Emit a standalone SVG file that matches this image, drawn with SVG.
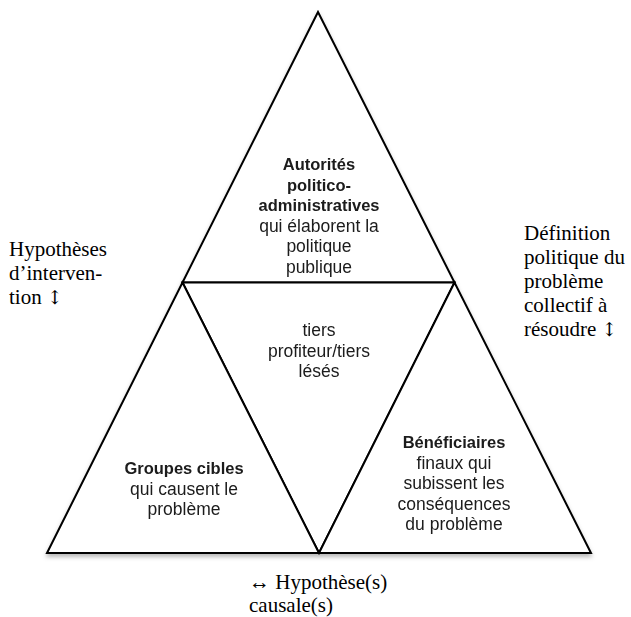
<svg xmlns="http://www.w3.org/2000/svg" width="631" height="617" viewBox="0 0 631 617">
  <defs>
    <filter id="shadow" x="-10%" y="-10%" width="120%" height="130%">
      <feDropShadow dx="0" dy="3" stdDeviation="2" flood-color="#000" flood-opacity="0.28"/>
    </filter>
  </defs>
  <style>
    .tri { fill: #fff; stroke: #000; stroke-width: 2; stroke-linejoin: miter; }
    .sans { font-family: "Liberation Sans", Arial, sans-serif; font-size: 17.5px; fill: #1a1a1a; text-anchor: middle; }
    .bold { font-weight: bold; font-size: 16.5px; }
    .serif { font-family: "Liberation Serif", "Times New Roman", serif; font-size: 21px; fill: #000; }
    .arrow { font-family: "DejaVu Serif", serif; font-size: 19px; }
  </style>
  <rect width="631" height="617" fill="#fff"/>
  <g filter="url(#shadow)">
    <g id="top">
      <polygon class="tri" points="318,12 182.5,282.5 454.5,282.5"/>
      <text class="sans bold" x="319" y="170">Autorités</text>
      <text class="sans bold" x="319" y="190.6">politico-</text>
      <text class="sans bold" x="319" y="211.2">administratives</text>
      <text class="sans" x="319" y="231.8">qui élaborent la</text>
      <text class="sans" x="319" y="252.4">politique</text>
      <text class="sans" x="319" y="273">publique</text>
    </g>
    <g id="center">
      <polygon class="tri" points="182.5,282.5 454.5,282.5 319,553"/>
      <text class="sans" x="319" y="336">tiers</text>
      <text class="sans" x="319" y="356.5">profiteur/tiers</text>
      <text class="sans" x="319" y="377">lésés</text>
    </g>
    <g id="left">
      <polygon class="tri" points="182.5,282.5 47,553 319,553"/>
      <text class="sans bold" x="184" y="474">Groupes cibles</text>
      <text class="sans" x="184" y="494.5">qui causent le</text>
      <text class="sans" x="184" y="515">problème</text>
    </g>
    <g id="right">
      <polygon class="tri" points="454.5,282.5 319,553 591,553"/>
      <text class="sans bold" x="454" y="448">Bénéficiaires</text>
      <text class="sans" x="454" y="468.6">finaux qui</text>
      <text class="sans" x="454" y="489.2">subissent les</text>
      <text class="sans" x="454" y="509.8">conséquences</text>
      <text class="sans" x="454" y="530.4">du problème</text>
    </g>
  </g>
  <g id="label-left">
    <text class="serif" x="9" y="256">Hypothèses</text>
    <text class="serif" x="9" y="280">d’interven-</text>
    <text class="serif" x="9" y="304">tion <tspan class="arrow">↕</tspan></text>
  </g>
  <g id="label-right">
    <text class="serif" x="524" y="240">Définition</text>
    <text class="serif" x="524" y="264">politique du</text>
    <text class="serif" x="524" y="288">problème</text>
    <text class="serif" x="524" y="312">collectif à</text>
    <text class="serif" x="524" y="336">résoudre <tspan class="arrow">↕</tspan></text>
  </g>
  <g id="label-bottom">
    <text class="serif" x="249" y="589">↔ Hypothèse(s)</text>
    <text class="serif" x="249" y="612">causale(s)</text>
  </g>
</svg>
